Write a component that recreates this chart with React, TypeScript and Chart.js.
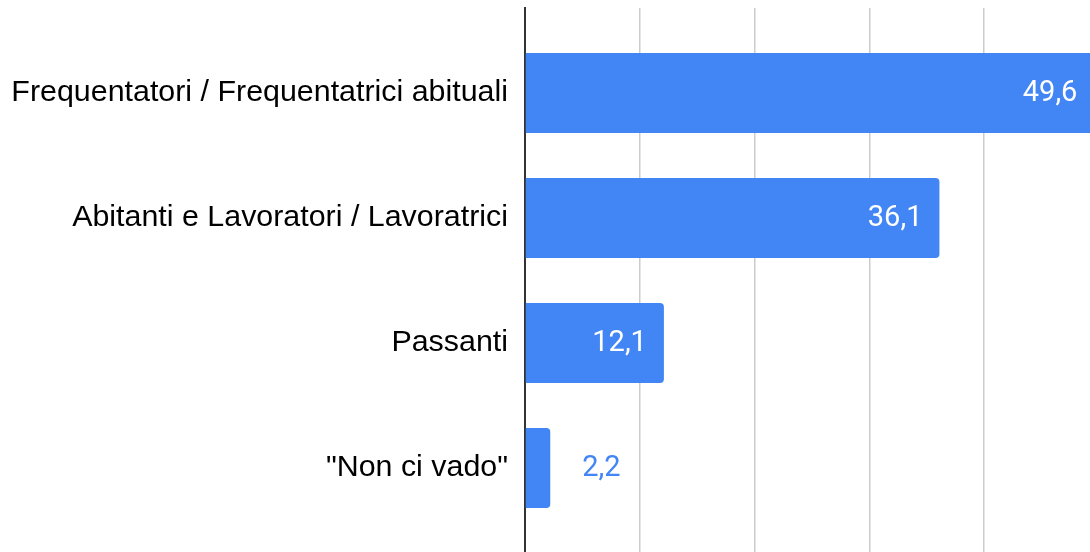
import React, { useEffect, useRef } from "react";
import { Chart, registerables } from "chart.js";

Chart.register(...registerables);

const categories = [
  "Frequentatori / Frequentatrici abituali",
  "Abitanti e Lavoratori / Lavoratrici",
  "Passanti",
  "\"Non ci vado\"",
];
const values = [49.6, 36.1, 12.1, 2.2];
const xTicks = [0, 10, 20, 30, 40, 50];

const BLUE = "#4285F4";

const valueLabels = {
  id: "valueLabels",
  afterDatasetsDraw(chart: any) {
    const ctx = chart.ctx;
    const meta = chart.getDatasetMeta(0);
    ctx.save();
    ctx.font = "29px Roboto";
    ctx.textBaseline = "middle";
    meta.data.forEach((bar: any, i: number) => {
      const text = values[i].toFixed(1).replace(".", ",");
      const w = ctx.measureText(text).width;
      const barW = bar.x - bar.base;
      if (barW > w + 34) {
        ctx.fillStyle = "#ffffff";
        ctx.textAlign = "right";
        ctx.fillText(text, bar.x - 17, bar.y + 1);
      } else {
        ctx.fillStyle = BLUE;
        ctx.textAlign = "left";
        ctx.fillText(text, bar.x + 32, bar.y + 1);
      }
    });
    ctx.restore();
  },
};

export default function App() {
  const ref = useRef<HTMLCanvasElement | null>(null);

  useEffect(() => {
    document.body.style.margin = "0";
    document.body.style.overflow = "hidden";
    const canvas = ref.current;
    if (!canvas) return;
    const chart = new Chart(canvas, {
      type: "bar",
      data: {
        labels: categories,
        datasets: [
          {
            data: values.map((v, i) => ({ x: v, y: i })) as any,
            backgroundColor: BLUE,
            borderRadius: 4,
            borderSkipped: "start",
            barPercentage: 0.8,
            categoryPercentage: 0.8,
          },
        ],
      },
      options: {
        indexAxis: "y",
        responsive: false,
        animation: false,
        devicePixelRatio: 1,
        layout: { padding: { top: 8, right: 1, bottom: 0, left: 0 } },
        plugins: {
          legend: { display: false },
          tooltip: { enabled: false },
        },
        scales: {
          x: {
            type: "linear",
            min: xTicks[0],
            max: xTicks[xTicks.length - 1],
            afterBuildTicks: (scale: any) => {
              scale.ticks = xTicks.map((v) => ({ value: v }));
            },
            ticks: { display: false },
            grid: { color: "#cccccc", lineWidth: 1.5, drawTicks: false },
            border: { display: false },
          },
          y: {
            type: "linear",
            reverse: true,
            offset: false,
            bounds: "data",
            min: -0.68,
            max: 3.672,
            z: 1,
            afterBuildTicks: (scale: any) => {
              scale.ticks = categories.map((_, i) => ({ value: i }));
            },
            afterFit: (scale: any) => {
              scale.width = 525;
              scale.paddingTop = 0;
              scale.paddingBottom = 0;
            },
            ticks: {
              autoSkip: false,
              padding: 17,
              color: "#000000",
              font: { family: "'Liberation Sans', Arial, sans-serif", size: 30.4 },
              callback: (v: any) => categories[v] ?? "",
            },
            grid: { display: false, drawTicks: false, offset: false },
            border: { display: true, color: "#333333", width: 2 },
          },
        },
      },
      plugins: [valueLabels],
    });
    return () => chart.destroy();
  }, []);

  return (
    <div style={{ width: 1090, height: 552, overflow: "hidden", position: "relative", background: "#fff" }}>
      <canvas ref={ref} width={1100} height={552} style={{ width: 1100, height: 552, display: "block" }} />
    </div>
  );
}
